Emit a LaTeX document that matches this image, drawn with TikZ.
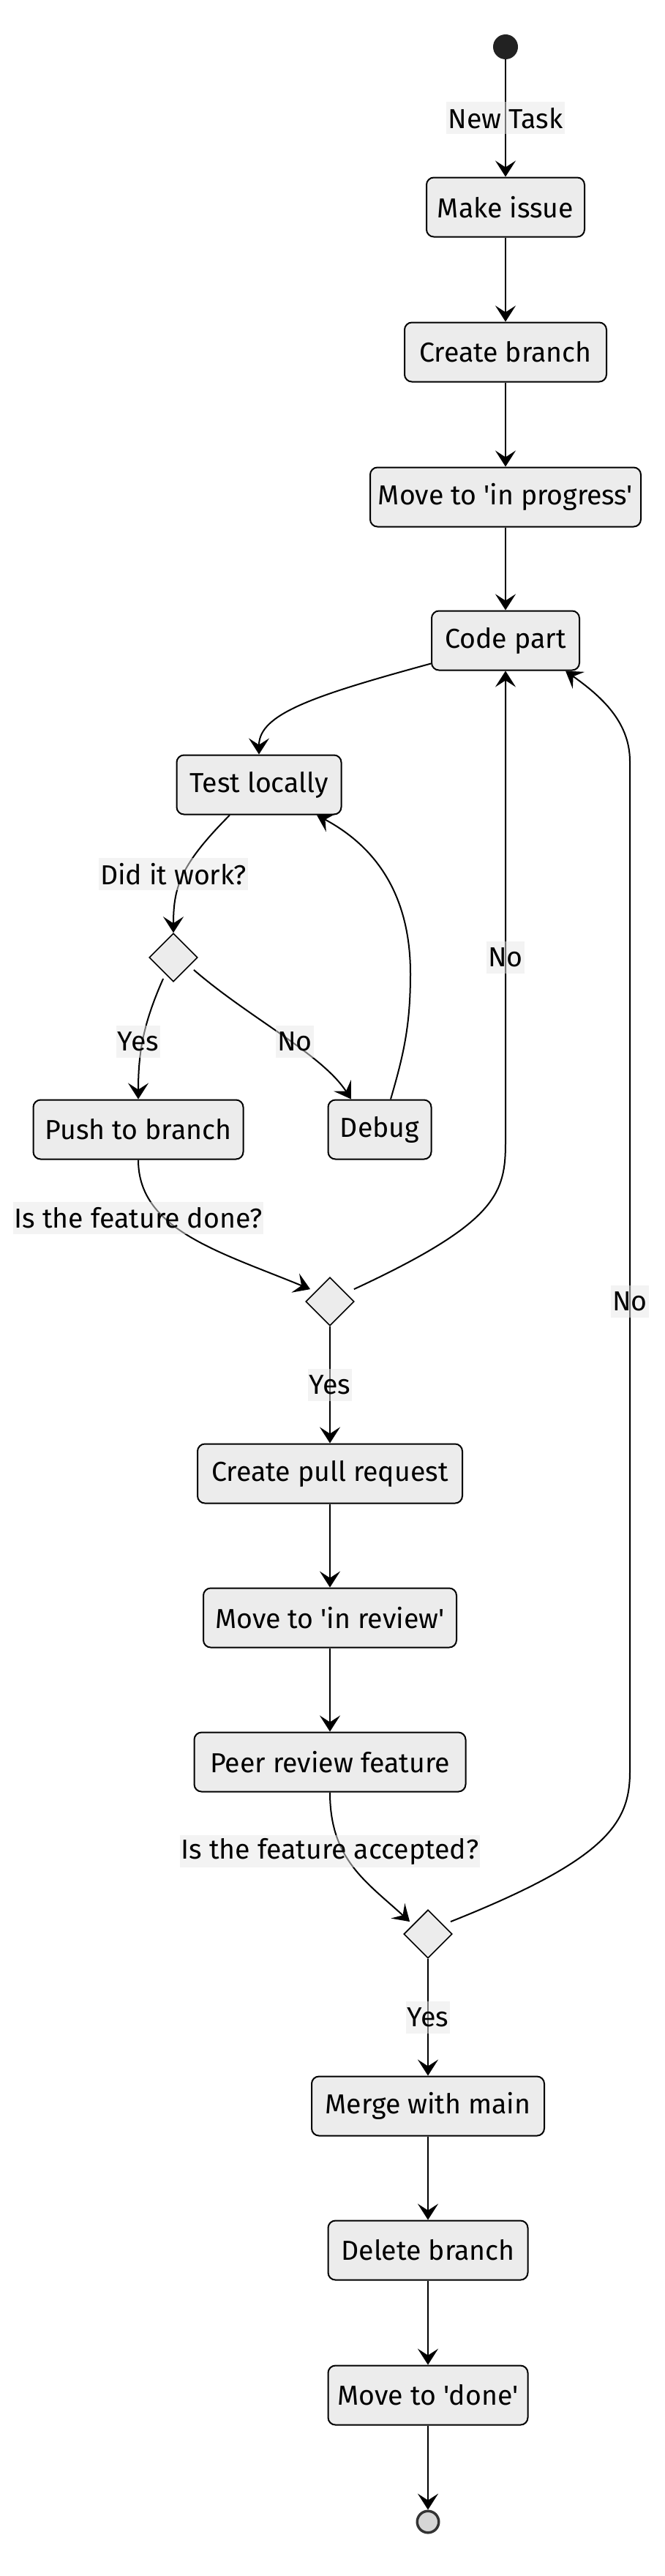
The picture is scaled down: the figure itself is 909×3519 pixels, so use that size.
\documentclass[tikz,border=0pt]{standalone}
\usepackage{fontspec}
\setmainfont{Fira Sans}[Ligatures=TeXOff]
\usetikzlibrary{arrows.meta,shapes.geometric,calc}
\definecolor{boxfill}{HTML}{ECECEC}
\definecolor{lblbg}{HTML}{E8E8E8}
\definecolor{startc}{HTML}{222222}
\definecolor{endring}{HTML}{333333}
\definecolor{endfill}{HTML}{D6D6D6}
\begin{document}
\begin{tikzpicture}[x=1pt,y=-1pt,
  every node/.style={font=\fontsize{37.5}{44}\selectfont},
  act/.style={draw=black, line width=2pt, fill=boxfill, rounded corners=10pt, inner sep=0pt, minimum height=81pt},
  dec/.style={diamond, draw=black, line width=1.6pt, fill=boxfill, inner sep=0pt, minimum width=66pt, minimum height=66pt},
  startdot/.style={circle, fill=startc, inner sep=0pt, minimum size=34pt},
  enddot/.style={circle, draw=endring, line width=3.5pt, fill=endfill, inner sep=0pt, minimum size=29.5pt},
  flow/.style={draw=black, line width=2pt, -{Stealth[length=22pt,width=28pt,inset=9pt]}},
  lbl/.style={fill=lblbg, fill opacity=0.5, text opacity=1, inner xsep=2pt, inner ysep=0pt, minimum height=44pt}
]
\useasboundingbox (0,0) rectangle (909,3519);

\node[startdot] (start) at (691,64) {};
\node[act, minimum width=216pt] (make) at (691,283) {Make issue};
\node[act, minimum width=276pt] (branch) at (691,481) {Create branch};
\node[act, minimum width=370pt] (prog) at (691,679) {Move to 'in progress'};
\node[act, minimum width=202pt] (code) at (691,875) {Code part};
\node[act, minimum width=225pt] (test) at (354,1072) {Test locally};
\node[dec] (d1) at (237,1308) {};
\node[act, minimum width=287pt] (push) at (189,1543) {Push to branch};
\node[act, minimum width=141pt] (debug) at (519,1543) {Debug};
\node[dec] (d2) at (451,1778) {};
\node[act, minimum width=362pt] (pr) at (451,2013) {Create pull request};
\node[act, minimum width=346pt] (rev) at (451,2210) {Move to 'in review'};
\node[act, minimum width=371pt] (peer) at (451,2407) {Peer review feature};
\node[dec] (d3) at (585,2642) {};
\node[act, minimum width=318pt] (merge) at (585,2877) {Merge with main};
\node[act, minimum width=273pt] (del) at (585,3074) {Delete branch};
\node[act, minimum width=273pt] (done) at (585,3272) {Move to 'done'};
\node[enddot] (end) at (585,3445) {};

\draw[flow] (start) -- node[lbl] (lnew) {New Task} (make);
\draw[flow] (make) -- (branch);
\draw[flow] (branch) -- (prog);
\draw[flow] (prog) -- (code);
\draw[flow] ([yshift=10pt]code.south west) .. controls (430,950) and (354,975) .. (test.north);
\draw[flow] ([xshift=-40pt]test.south) .. controls (248,1180) and (237,1210) .. (d1.north)
  node[lbl] (lwork) at (237,1194) {Did it work?};
\draw[flow] ([shift={(3pt,-12pt)}]d1.south west) .. controls (195,1400) and (189,1440) .. (push.north)
  node[lbl] (lyes1) at (189,1423) {Yes};
\draw[flow] ([xshift=11pt]d1.south east) .. controls (340,1390) and (440,1440) .. ([xshift=-39pt]debug.north)
  node[lbl] (lno1) at (403,1423) {No};
\draw[flow] ([xshift=15pt]debug.north) .. controls (552,1440) and (561,1400) .. (561,1330)
  .. controls (561,1230) and (520,1160) .. ([xshift=79pt]test.south);
\draw[flow] (push.south) .. controls (189,1680) and (300,1710) .. ([xshift=-10pt]d2.north west)
  node[lbl] (ldone) at (189,1664) {Is the feature done?};
\draw[flow] ([xshift=16pt]d2.north east) .. controls (680,1670) and (691,1630) .. (691,1560) -- (code.south)
  node[lbl] (lno2) at (691,1308) {No};
\draw[flow] (d2.south) -- node[lbl] (lyes2) {Yes} (pr.north);
\draw[flow] (pr) -- (rev);
\draw[flow] (rev) -- (peer);
\draw[flow] (peer.south) .. controls (451,2540) and (500,2570) .. ([xshift=-8pt]d3.north west)
  node[lbl] (lacc) at (451,2529) {Is the feature accepted?};
\draw[flow] ([xshift=14pt]d3.north east) .. controls (830,2540) and (861,2490) .. (861,2420) -- (861,1040)
  .. controls (861,985) and (820,950) .. ([xshift=82pt]code.south)
  node[lbl] (lno3) at (861,1778) {No};
\draw[flow] (d3.south) -- node[lbl] (lyes3) {Yes} (merge.north);
\draw[flow] (merge) -- (del);
\draw[flow] (del) -- (done);
\draw[flow] (done) -- (end);
\end{tikzpicture}
\end{document}
